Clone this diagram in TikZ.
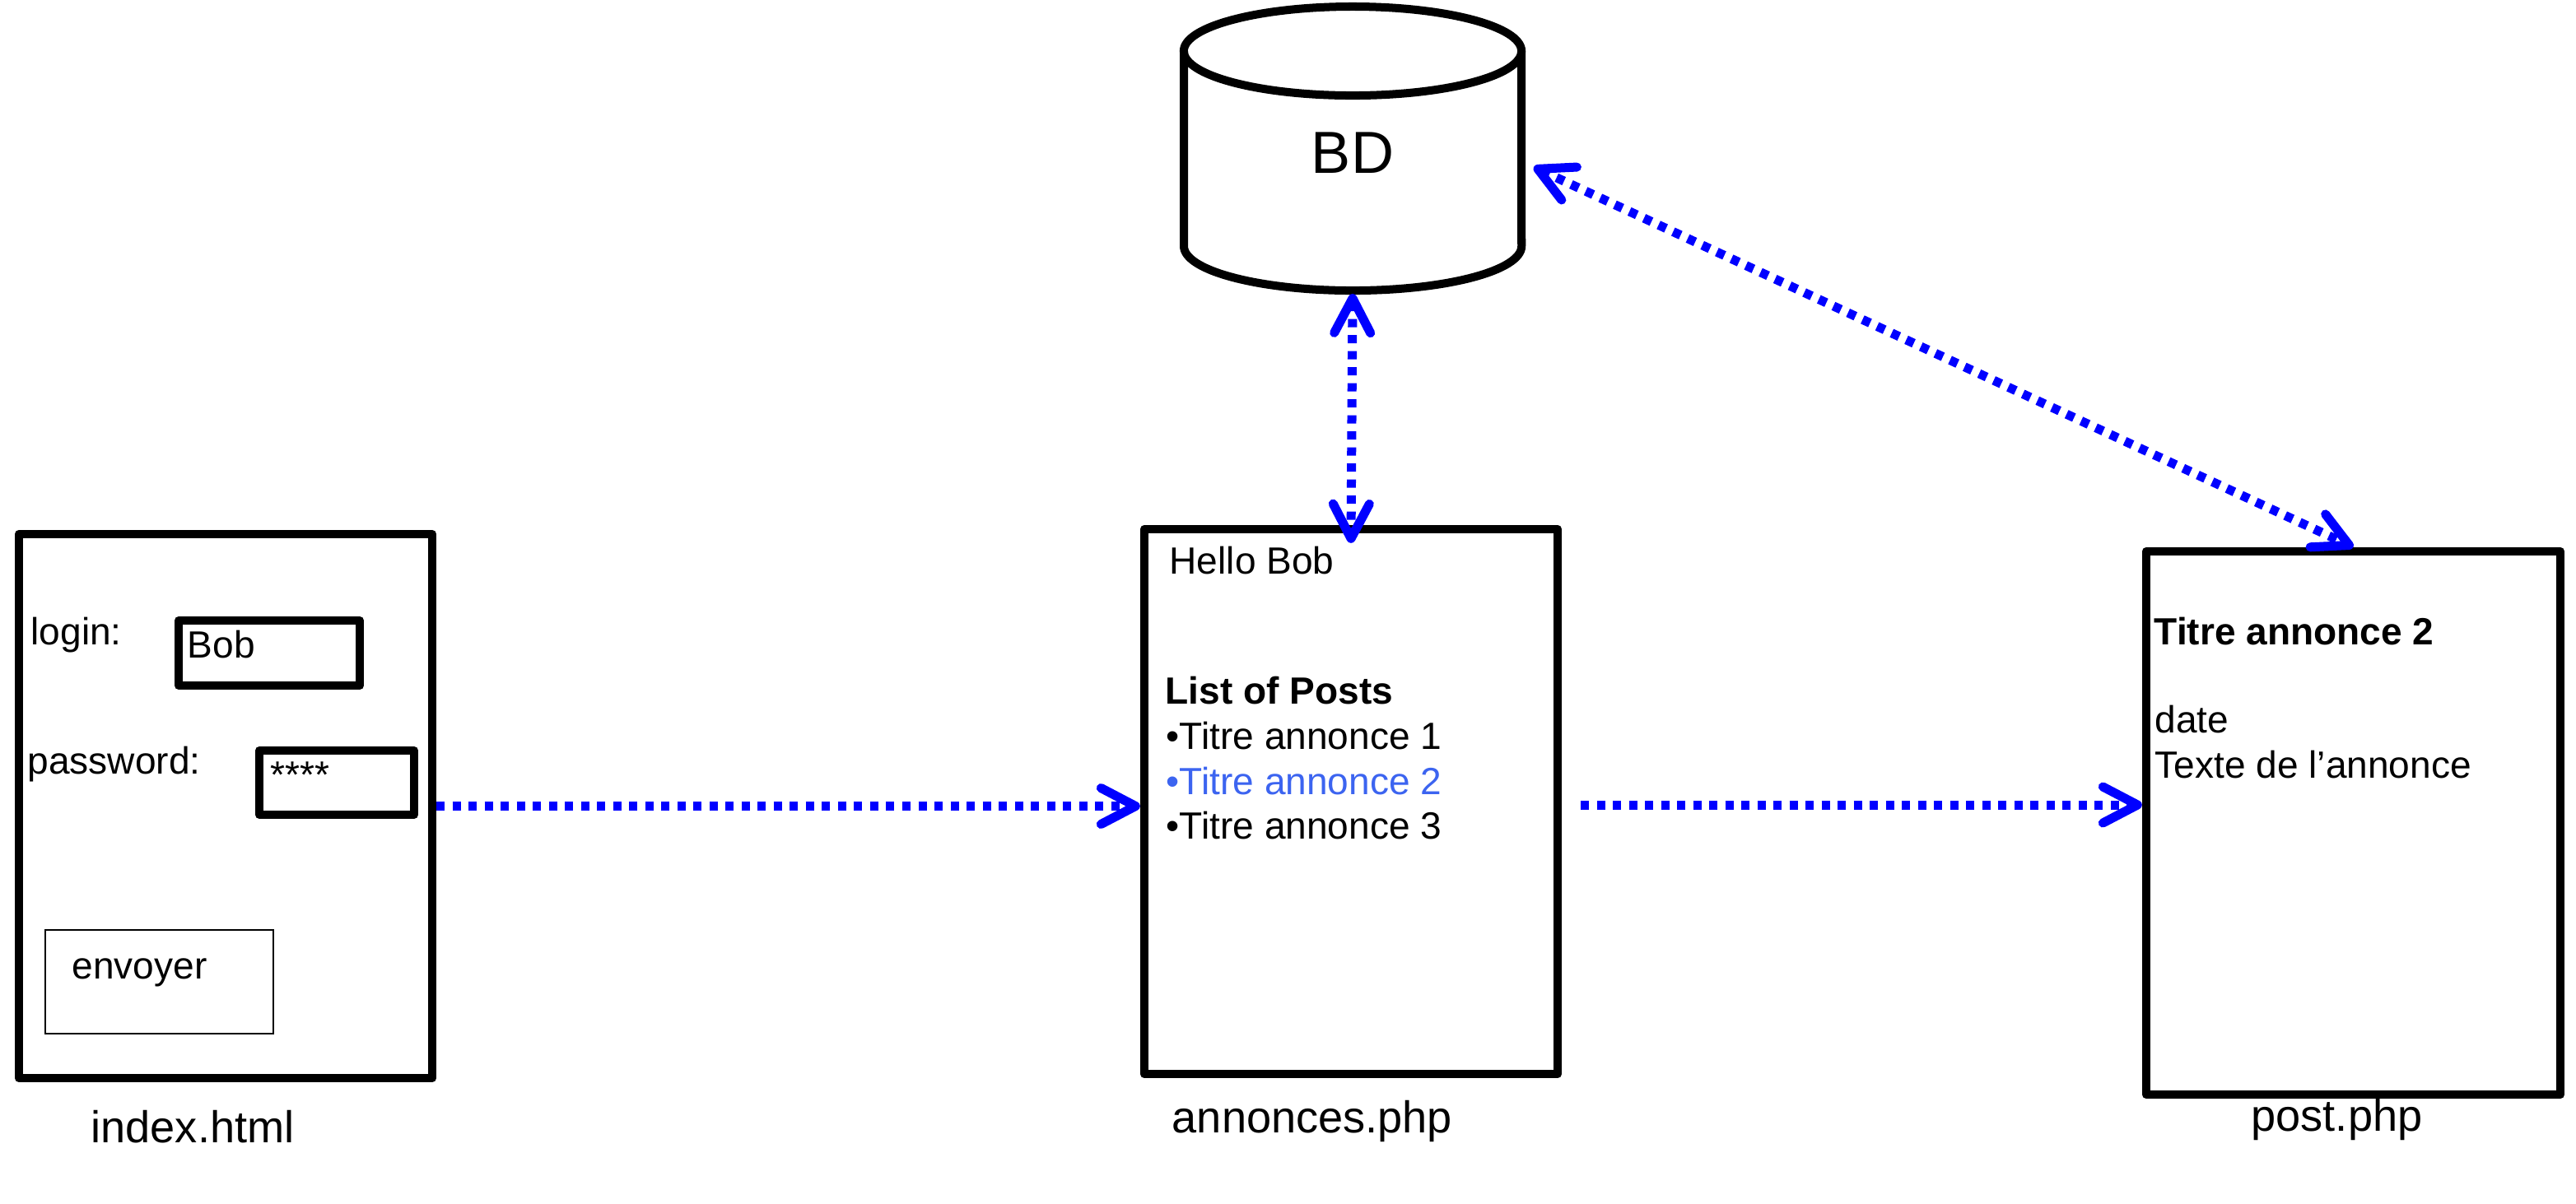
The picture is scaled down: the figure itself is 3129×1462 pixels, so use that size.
\documentclass[tikz,border=0pt]{standalone}
\usepackage{fontspec}
\setmainfont{Liberation Sans}
\usetikzlibrary{arrows.meta}
\definecolor{linkblue}{RGB}{60,100,240}
\begin{document}
\begin{tikzpicture}[x=0.01cm, y=-0.01cm,
  box/.style={draw, line width=0.1cm, line join=round, inner sep=0, outer sep=0.05cm},
  thinbox/.style={draw, line width=0.025cm, inner sep=0},
  cyl/.style={draw, line width=0.1cm, line join=round},
  txt/.style={font=\fontsize{13.1}{15}\selectfont, inner sep=0, anchor=base west},
  boldtxt/.style={font=\fontsize{13.1}{15}\selectfont\bfseries, inner sep=0, anchor=base west},
  lbl/.style={font=\fontsize{15.4}{18}\selectfont, inner sep=0, anchor=base},
  tip/.tip={Straight Barb[length=0.42cm, width=0.44cm, round]},
  flow/.style={draw=blue, line width=0.11cm, dash pattern=on 0.1cm off 0.095cm, -tip},
  flowboth/.style={draw=blue, line width=0.11cm, dash pattern=on 0.1cm off 0.095cm, tip-tip}]
\useasboundingbox (0,0) rectangle (3129,1462);

% index.html page
\node[box, minimum width=5.02cm, minimum height=6.61cm] (index) at (274,979.5) {};
\node[box, minimum width=2.2cm, minimum height=0.79cm] (loginbox) at (327,793.5) {};
\node[box, minimum width=1.88cm, minimum height=0.78cm] (pwbox) at (409,951) {};
\node[thinbox, minimum width=2.77cm, minimum height=1.26cm] (sendbox) at (193.5,1193) {};
\node[txt] (login) at (37,783) {login:};
\node[txt] (bob) at (227,799) {Bob};
\node[txt] (pw) at (33,940) {password:};
\node[txt] (stars) at (328,957) {****};
\node[txt] (send) at (87,1189) {envoyer};
\node[lbl] (indexlbl) at (234,1388) {index.html};

% annonces.php page
\node[box, minimum width=5.02cm, minimum height=6.62cm] (annonces) at (1641,974) {};
\node[txt] (hello) at (1420,697) {Hello Bob};
\node[boldtxt] (listt) at (1415,855) {List of Posts};
\node[txt] (t1) at (1416,910) {•Titre annonce 1};
\node[txt, text=linkblue] (t2) at (1416,965) {•Titre annonce 2};
\node[txt] (t3) at (1416,1019) {•Titre annonce 3};
\node[lbl] (annlbl) at (1594,1376) {annonces.php};

% post.php page
\node[box, minimum width=5.03cm, minimum height=6.60cm] (post) at (2858.5,1000) {};
\node[boldtxt] (ptitle) at (2616,783) {Titre annonce 2};
\node[txt] (pdate) at (2617,890) {date};
\node[txt] (ptext) at (2617,945) {Texte de l’annonce};
\node[lbl] (postlbl) at (2838.5,1374) {post.php};

% database cylinder
\draw[cyl] (1438,62) -- (1438,299) arc[start angle=180, end angle=360, x radius=2.05cm, y radius=0.54cm] -- (1848,62);
\draw[cyl] (1643,62) ellipse [x radius=2.05cm, y radius=0.54cm];
\node[font=\fontsize{20.5}{24}\selectfont, inner sep=0, anchor=base] (bd) at (1643,210) {BD};
\coordinate (bdbot) at (1643,357);
\coordinate (bdside) at (1863,203);
\coordinate (annout) at (1920,978);

% connectors
\draw[flow] (index.east) -- (annonces.west |- index.east);
\draw[flow] (annout) -- (annout -| post.west);
\draw[flowboth] (bdbot) -- ([yshift=-0.22cm]annonces.north);
\draw[flowboth] (bdside) -- (post.north);
\end{tikzpicture}
\end{document}
